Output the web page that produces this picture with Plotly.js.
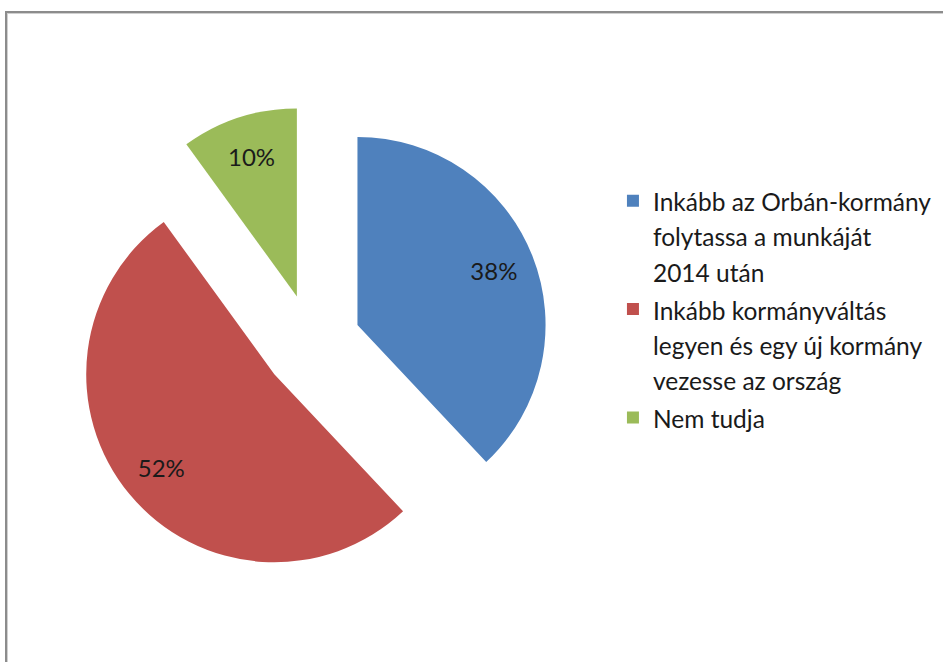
<!DOCTYPE html>
<html>
<head>
<meta charset="utf-8">
<script src="https://cdn.plot.ly/plotly-3.0.1.min.js"></script>
<style>
html,body{margin:0;padding:0;background:#fff;}
#wrap{position:relative;width:943px;height:662px;}
#chart{position:absolute;left:0;top:0;width:943px;height:662px;}
#frame{position:absolute;left:5px;top:11px;width:945px;height:660px;border-top:2px solid #8c8c8c;border-left:2px solid #8c8c8c;pointer-events:none;box-shadow:inset 1px 1px 0 #d0d0d0;}
</style>
</head>
<body>
<div id="wrap">
<div id="chart"></div>
<div id="frame"></div>
</div>
<script>
const categories = [
  "Inkább az Orbán-kormány<br>folytassa a munkáját<br>2014 után",
  "Inkább kormányváltás<br>legyen és egy új kormány<br>vezesse az ország",
  "Nem tudja"
];
const values = [38, 52, 10];
const colors = ["#4F81BD", "#C0504D", "#9BBB59"];
const pulls = [0.26, 0.26, 0.26];

const pieDomain = {x: [0.0795, 0.5822], y: [0.1239, 0.8399]};
const labelFont = {family: "Lato, 'Open Sans', sans-serif", size: 24, color: "#1a1a1a"};

// legend line height comes from the legend font size; the visible glyphs are a little smaller
const legendLabels = categories.map(c => '<span style="font-size:24.5px">' + c + '</span>');

const slices = {
  type: "pie",
  labels: legendLabels,
  values: values,
  sort: false,
  direction: "clockwise",
  rotation: 0,
  pull: pulls,
  marker: {colors: colors, line: {width: 0}},
  textinfo: "none",
  domain: pieDomain,
  hoverinfo: "skip"
};

// transparent ring carrying the percentage labels further out, like the original
const labelRing = {
  type: "pie",
  labels: legendLabels,
  values: values,
  sort: false,
  direction: "clockwise",
  rotation: 0,
  pull: pulls,
  hole: 0.56,
  showlegend: false,
  marker: {colors: ["rgba(0,0,0,0)", "rgba(0,0,0,0)", "rgba(0,0,0,0)"], line: {width: 0}},
  texttemplate: "%{value}%",
  textposition: "inside",
  insidetextorientation: "horizontal",
  textfont: labelFont,
  domain: pieDomain,
  hoverinfo: "skip"
};

const layout = {
  width: 943,
  height: 662,
  margin: {l: 0, r: 0, t: 0, b: 0},
  paper_bgcolor: "#ffffff",
  plot_bgcolor: "#ffffff",
  showlegend: true,
  legend: {
    x: 0.650, y: 0.733, xanchor: "left", yanchor: "top",
    valign: "top",
    font: {family: "Lato, 'Open Sans', sans-serif", size: 27, color: "#1a1a1a"},
    bgcolor: "rgba(0,0,0,0)"
  }
};

Plotly.newPlot("chart", [slices, labelRing], layout, {staticPlot: true, displayModeBar: false});
</script>
</body>
</html>
